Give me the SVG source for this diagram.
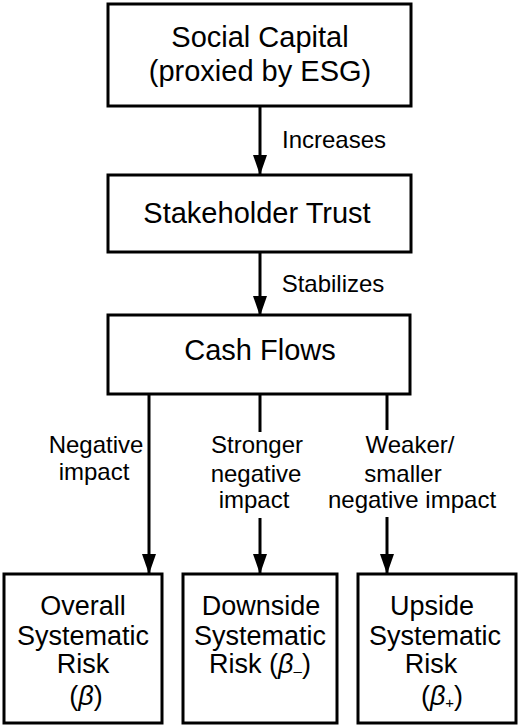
<svg xmlns="http://www.w3.org/2000/svg" width="520" height="727" viewBox="0 0 520 727">
<style>
.box{fill:#fff;stroke:#000;stroke-width:3}
.t{font-family:"Liberation Sans",Arial,sans-serif;fill:#000;text-anchor:middle}
.big{font-size:29px}
.mid{font-size:27px}
.lab{font-size:24px}
.ln{stroke:#000;stroke-width:3;fill:none}
</style>
<defs>
<marker id="ah" viewBox="0 0 20 14" refX="19" refY="7" markerWidth="6.667" markerHeight="4.667" markerUnits="strokeWidth" orient="auto">
<path d="M0,0 L20,7 L0,14 z" fill="#000"/>
</marker>
</defs>
<rect width="520" height="727" fill="#fff"/>
<g id="connectors">
<line class="ln" x1="260" y1="106" x2="260" y2="174" marker-end="url(#ah)"/>
<line class="ln" x1="260" y1="252" x2="260" y2="315" marker-end="url(#ah)"/>
<line class="ln" x1="149" y1="394" x2="149" y2="573" marker-end="url(#ah)"/>
<line class="ln" x1="260" y1="394" x2="260" y2="432"/>
<line class="ln" x1="260" y1="518" x2="260" y2="573" marker-end="url(#ah)"/>
<line class="ln" x1="387" y1="394" x2="387" y2="430"/>
<line class="ln" x1="387" y1="517" x2="387" y2="573" marker-end="url(#ah)"/>
<text class="t lab" x="334" y="148">Increases</text>
<text class="t lab" x="333" y="292">Stabilizes</text>
<text class="t lab" x="96" y="453">Negative</text>
<text class="t lab" x="94" y="480">impact</text>
<text class="t lab" x="257" y="453">Stronger</text>
<text class="t lab" x="256" y="482">negative</text>
<text class="t lab" x="254" y="508">impact</text>
<text class="t lab" x="410" y="453">Weaker/</text>
<text class="t lab" x="403" y="482">smaller</text>
<text class="t lab" x="412" y="508">negative impact</text>
</g>
<g id="social-capital">
<rect class="box" x="108" y="4" width="303" height="102"/>
<text class="t big" x="260" y="47">Social Capital</text>
<text class="t big" x="260" y="81">(proxied by ESG)</text>
</g>
<g id="stakeholder-trust">
<rect class="box" x="108" y="175" width="303" height="77"/>
<text class="t big" x="257" y="223">Stakeholder Trust</text>
</g>
<g id="cash-flows">
<rect class="box" x="108" y="315" width="302" height="79"/>
<text class="t big" x="260" y="360">Cash Flows</text>
</g>
<g id="overall">
<rect class="box" x="4" y="574" width="158" height="149"/>
<text class="t mid" x="83" y="615">Overall</text>
<text class="t mid" x="83" y="645">Systematic</text>
<text class="t mid" x="83" y="673">Risk</text>
<text class="t mid" x="86" y="705">(<tspan font-style="italic">β</tspan>)</text>
</g>
<g id="downside">
<rect class="box" x="183" y="574" width="154" height="149"/>
<text class="t mid" x="261" y="615">Downside</text>
<text class="t mid" x="260" y="645">Systematic</text>
<text class="t mid" x="260" y="673">Risk (<tspan font-style="italic">β</tspan><tspan font-size="15" dy="3">–</tspan><tspan dy="-3">)</tspan></text>
</g>
<g id="upside">
<rect class="box" x="358" y="574" width="158" height="149"/>
<text class="t mid" x="432" y="615">Upside</text>
<text class="t mid" x="435" y="645">Systematic</text>
<text class="t mid" x="431" y="673">Risk</text>
<text class="t mid" x="442" y="705">(<tspan font-style="italic">β</tspan><tspan font-size="15" dy="3">+</tspan><tspan dy="-3">)</tspan></text>
</g>
</svg>
